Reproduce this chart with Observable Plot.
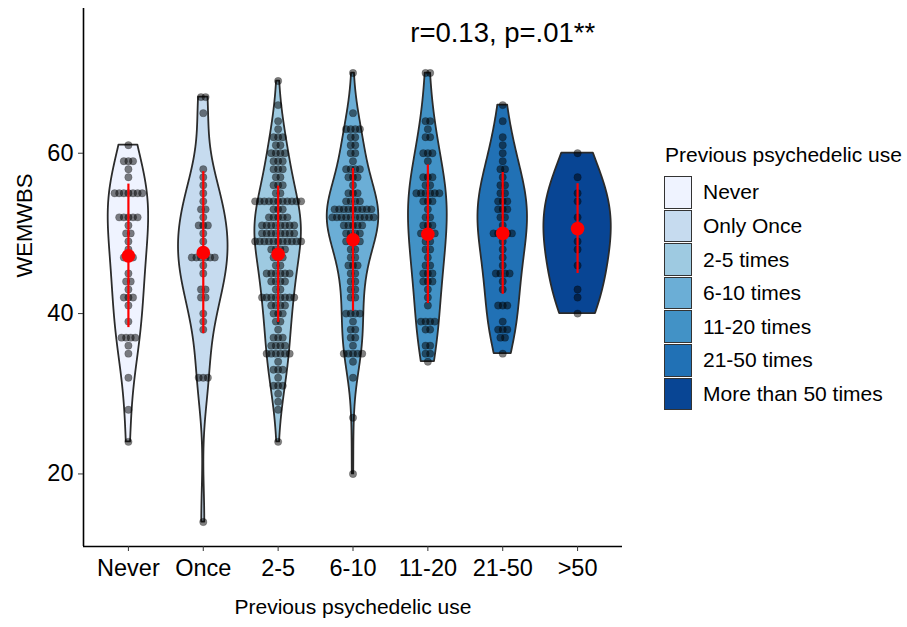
<!DOCTYPE html>
<html><head><meta charset="utf-8">
<script src="https://cdn.jsdelivr.net/npm/d3@7"></script>
<script src="https://cdn.jsdelivr.net/npm/@observablehq/plot@0.6"></script>
<style>
body{margin:0;background:#fff;}
#wrap{position:relative;width:907px;height:627px;font-family:"Liberation Sans",Arial,sans-serif;color:#000;}
.lg{position:absolute;white-space:nowrap;}
</style></head><body><div id="wrap"></div>
<script>
// ---- data ----
const categories = ["Never","Once","2-5","6-10","11-20","21-50",">50"];
const legendTitle = "Previous psychedelic use";
const legendLabels = ["Never","Only Once","2-5 times","6-10 times","11-20 times","21-50 times","More than 50 times"];
const blues = ["#EFF3FF","#C6DBEF","#9ECAE1","#6BAED6","#4292C6","#2171B5","#084594"];
// [score, number of respondents]
const neverCounts = [[61,1],[59,3],[58,1],[57,1],[55,7],[52,5],[51,1],[50,2],[49,1],[48,1],[47,3],[45,1],[44,2],[43,1],[42,3],[41,1],[39,1],[37,4],[36,1],[35,1],[32,1],[28,1],[24,1]];
const onceCounts = [[67,2],[65,1],[58,1],[57,1],[56,1],[55,1],[54,1],[53,2],[52,1],[51,3],[50,1],[49,1],[47,6],[46,1],[45,1],[43,2],[42,2],[40,1],[39,1],[38,1],[32,3],[14,1]];
const twoFiveCounts = [[69,1],[66,1],[64,1],[63,1],[62,3],[61,2],[60,4],[59,3],[58,3],[57,2],[56,3],[55,2],[54,11],[53,3],[52,5],[51,8],[50,8],[49,11],[48,4],[47,3],[46,2],[45,6],[44,4],[43,2],[42,8],[41,4],[40,3],[39,2],[38,1],[37,3],[36,4],[35,6],[34,1],[33,3],[32,1],[31,3],[30,1],[29,1],[28,1],[24,1]];
const sixTenCounts = [[70,1],[65,1],[63,4],[62,2],[61,2],[60,2],[59,1],[58,4],[57,3],[56,1],[55,3],[54,4],[53,9],[52,10],[51,5],[50,4],[49,4],[48,2],[47,2],[46,3],[45,2],[44,2],[43,2],[42,2],[40,4],[39,1],[38,2],[37,2],[36,1],[35,5],[34,1],[32,1],[27,1],[20,1]];
const elevenTwentyCounts = [[70,2],[64,2],[63,1],[62,2],[60,3],[59,1],[57,3],[56,2],[55,6],[54,3],[53,1],[52,2],[51,3],[50,4],[49,2],[48,2],[47,1],[46,2],[45,3],[44,3],[43,1],[42,1],[41,1],[39,4],[38,2],[36,2],[35,2],[34,1]];
const twentyOneFiftyCounts = [[66,1],[64,1],[62,1],[61,1],[60,1],[59,1],[58,2],[57,1],[56,2],[55,2],[54,3],[53,3],[52,2],[51,1],[50,5],[49,1],[48,1],[47,1],[46,1],[45,4],[44,1],[43,1],[41,3],[39,1],[38,3],[37,2],[35,1]];
const overFiftyCounts = [[60,1],[57,1],[55,1],[54,1],[52,1],[51,1],[49,1],[48,1],[46,1],[43,1],[42,1],[40,1]];
const groupMeans = [47.2, 47.6, 47.4, 49.2, 49.9, 50.0, 50.6];
const groupSDs = [8.95, 10.1, 8.5, 8.9, 8.65, 7.6, 5.6];
// peak density of each violin relative to the widest one
const violinRelPeak = [0.60, 0.735, 0.69, 0.765, 0.575, 0.735, 1.0];
const yTicks = [20, 40, 60];
const annotation = "r=0.13, p=.01**";
const annotationAt = {group: 6, score: 75};
const xTitle = "Previous psychedelic use";
const yTitle = "WEMWBS";
const bandwidthAdjust = 1.25;

// ---- build tables ----
const allCounts = [neverCounts, onceCounts, twoFiveCounts, sixTenCounts, elevenTwentyCounts, twentyOneFiftyCounts, overFiftyCounts];
const W = 907, H = 627, mL = 83, mR = 285, mT = 8, mB = 81;
const xDomain = [0.4, 7.6];
const pxPerX = (W - mL - mR) / (xDomain[1] - xDomain[0]);
const dotStep = 4.6 / pxPerX;

function bwNrd0(x) {
  const n = x.length, s = d3.deviation(x);
  const srt = x.slice().sort(d3.ascending);
  const iqr = d3.quantileSorted(srt, 0.75) - d3.quantileSorted(srt, 0.25);
  let lo = Math.min(s, iqr / 1.34);
  if (!lo) lo = s || 1;
  return 0.9 * lo * Math.pow(n, -0.2);
}
function kde(x) {
  const bw = bwNrd0(x) * bandwidthAdjust, lo = d3.min(x), hi = d3.max(x);
  return d3.range(512).map(k => {
    const y = lo + (hi - lo) * k / 511;
    const d = d3.sum(x, v => Math.exp(-0.5 * ((y - v) / bw) ** 2)) / (x.length * bw * Math.sqrt(2 * Math.PI));
    return {y, d};
  });
}
const violinRows = [], dotRows = [];
allCounts.forEach((counts, gi) => {
  const g = gi + 1, label = legendLabels[gi];
  const values = counts.flatMap(([v, c]) => d3.range(c).map(() => v));
  const dens = kde(values);
  const gMax = d3.max(dens, r => r.d);
  dens.forEach(r => violinRows.push({g, label, y: r.y, half: r.d / gMax * violinRelPeak[gi] * 0.45}));
  counts.forEach(([v, c]) => {
    for (let k = 0; k < c; k++) dotRows.push({x: g + (k - (c - 1) / 2) * dotStep, y: v});
  });
});
const summary = groupMeans.map((m, i) => ({g: i + 1, m, sd: groupSDs[i]}));
const yVals = allCounts.flat().map(d => d[0]).concat([annotationAt.score]);
const yMin = d3.min(yVals), yMax = d3.max(yVals), yPad = (yMax - yMin) * 0.05;

const chart = Plot.plot({
  width: W, height: H,
  marginLeft: mL, marginRight: mR, marginTop: mT, marginBottom: mB,
  style: {fontFamily: "'Liberation Sans', Arial, sans-serif", background: "white", color: "black", overflow: "visible"},
  x: {domain: xDomain},
  y: {domain: [yMin - yPad, yMax + yPad]},
  color: {domain: legendLabels, range: blues},
  marks: [
    Plot.areaX(violinRows, {y: "y", x1: r => r.g - r.half, x2: r => r.g + r.half, z: "g", fill: "label", stroke: "#2b2b2b", strokeWidth: 1.8}),
    Plot.dot(dotRows, {x: "x", y: "y", r: 3.7, fill: "black", fillOpacity: 0.5, stroke: "black", strokeOpacity: 0.3, strokeWidth: 0.6}),
    Plot.ruleX(summary, {x: "g", y1: d => d.m - d.sd, y2: d => d.m + d.sd, stroke: "red", strokeWidth: 2.2}),
    Plot.dot(summary, {x: "g", y: "m", r: 6.8, fill: "red"}),
    Plot.text([annotation], {x: () => annotationAt.group, y: () => annotationAt.score, text: d => d, fontSize: 27.5, fill: "black"}),
    Plot.ruleX([xDomain[0]], {stroke: "black", strokeWidth: 1.6}),
    Plot.ruleY([yMin - yPad], {stroke: "black", strokeWidth: 1.6}),
    Plot.axisX({ticks: d3.range(1, categories.length + 1), tickFormat: i => categories[i - 1], tickSize: 5, tickPadding: 8, fontSize: 23.5, label: null, stroke: "#333", fill: "black"}),
    Plot.axisY({ticks: yTicks, tickSize: 5, tickPadding: 5, fontSize: 23.5, label: null, stroke: "#333", fill: "black"}),
    Plot.text([yTitle], {frameAnchor: "left", dx: -59, rotate: -90, fontSize: 22, fill: "black"}),
    Plot.text([xTitle], {frameAnchor: "bottom", dy: 67, fontSize: 21, fill: "black"})
  ]
});
const wrap = document.getElementById("wrap");
wrap.appendChild(chart);

// ---- legend ----
const leg = d3.select(wrap);
leg.append("div").attr("class", "lg").text(legendTitle)
  .style("left", "665px").style("top", "142px").style("font-size", "21px").style("line-height", "26px");
legendLabels.forEach((lab, i) => {
  const top = 176 + i * 33.6;
  leg.append("div").attr("class", "lg")
    .style("left", "664px").style("top", top + "px")
    .style("width", "28px").style("height", "32.6px").style("box-sizing", "border-box")
    .style("border", "1.6px solid #333").style("background", blues[i]);
  leg.append("div").attr("class", "lg").text(lab)
    .style("left", "703px").style("top", (top + 3.3) + "px").style("font-size", "21px").style("line-height", "26px");
});
</script></body></html>
